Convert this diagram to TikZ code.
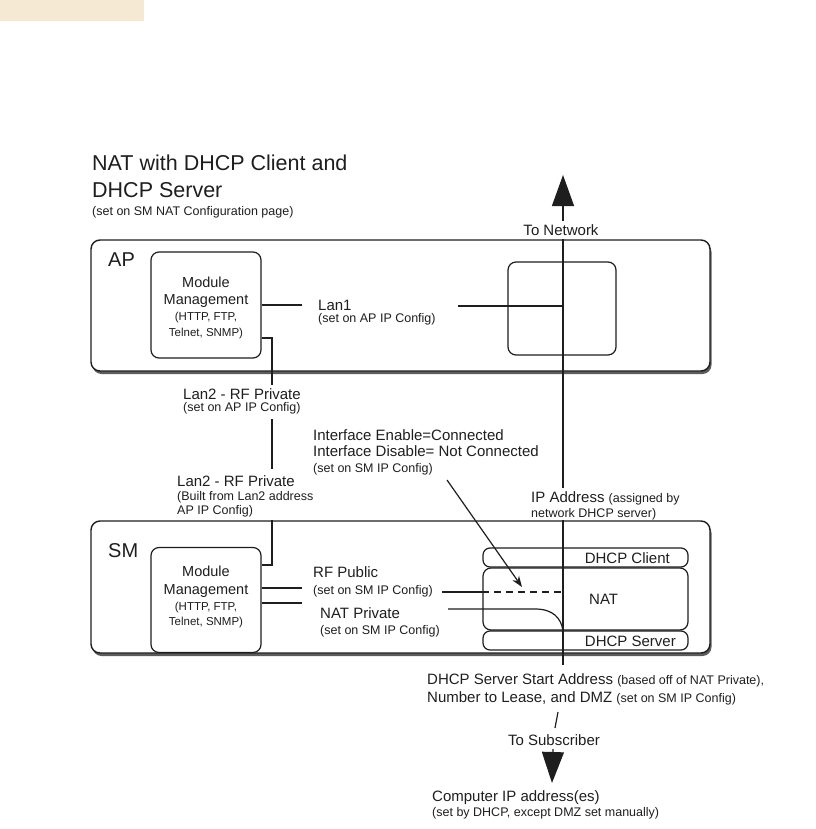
\documentclass[tikz,border=0pt]{standalone}
\usepackage{fontspec}
\setmainfont{Liberation Sans}
\usetikzlibrary{shadows,arrows.meta}
\definecolor{beige}{HTML}{F5E9D3}
\definecolor{ink}{HTML}{1E1E1E}
\tikzset{
  conn/.style={line width=1.2pt, draw=ink},
  bigbox/.style={draw=ink, line width=1.4pt, rounded corners=9pt, fill=white, inner sep=0pt,
    drop shadow={shadow xshift=1.5pt, shadow yshift=-3pt, fill=black!75, opacity=0.85}},
  modbox/.style={draw=ink, line width=1.2pt, rounded corners=8pt, fill=white, inner sep=0pt},
  pill/.style={draw=ink, line width=1.2pt, rounded corners=7pt, fill=white, inner sep=0pt},
  lbl/.style={anchor=base west, inner sep=0pt, text=ink, font=\fontsize{15}{18}\selectfont},
  big/.style={anchor=base west, inner sep=0pt, text=ink, font=\fontsize{21.5}{24}\selectfont},
  tiny/.style={anchor=base west, inner sep=0pt, text=ink, font=\fontsize{12.5}{14}\selectfont},
  mm/.style={anchor=base, inner sep=0pt, text=ink, font=\fontsize{14.5}{17}\selectfont},
  mms/.style={anchor=base, inner sep=0pt, text=ink, font=\fontsize{11.5}{14}\selectfont},
  bighead/.style={-{Triangle[width=22pt,length=31pt]}},
}
\newcommand{\smallt}[1]{{\fontsize{12.5}{14}\selectfont #1}}
\begin{document}
\begin{tikzpicture}[x=1pt,y=-1pt]
\useasboundingbox (0,0) rectangle (815,829);
\fill[beige] (0,0) rectangle (144,21);

% title
\node[big] (t1) at (92,171) {NAT with DHCP Client and};
\node[big] (t2) at (92,197) {DHCP Server};
\node[tiny] (t3) at (92,215) {(set on SM NAT Configuration page)};

% AP box
\node[bigbox, minimum width=619pt, minimum height=131pt] (ap) at (400.5,305.5) {};
\node[big, font=\fontsize{20}{24}\selectfont] (aplbl) at (108,266) {AP};
\node[modbox, minimum width=110pt, minimum height=106pt] (apmm) at (206,305) {};
\node[mm] (apm1) at (206,287) {Module};
\node[mm] (apm2) at (206,304) {Management};
\node[mms] (apm3) at (206,320) {(HTTP, FTP,};
\node[mms] (apm4) at (206,336) {Telnet, SNMP)};
\node[modbox, minimum width=108pt, minimum height=93pt] (apr) at (562,308.5) {};

% SM box
\node[bigbox, minimum width=619pt, minimum height=132pt] (sm) at (400.5,587) {};
\node[big, font=\fontsize{20}{24}\selectfont] (smlbl) at (108,557) {SM};
\node[modbox, minimum width=110pt, minimum height=105pt] (smmm) at (206,600) {};
\node[mm] (smm1) at (206,576) {Module};
\node[mm] (smm2) at (206,594) {Management};
\node[mms] (smm3) at (206,610) {(HTTP, FTP,};
\node[mms] (smm4) at (206,625) {Telnet, SNMP)};

% right stack
\node[modbox, minimum width=205pt, minimum height=62pt] (nat) at (585.5,599) {};
\node[pill, minimum width=205pt, minimum height=19pt] (dc) at (585.5,557.5) {};
\node[pill, minimum width=205pt, minimum height=19pt] (ds) at (585.5,640.5) {};
\node[lbl, anchor=east] (dct) at (670,558) {DHCP Client};
\node[lbl, anchor=west] (natt) at (589,599) {NAT};
\node[lbl, anchor=east] (dst) at (676,641) {DHCP Server};

% IP address
\node[lbl] (ipa) at (531,502) {IP Address \smallt{(assigned by}};
\node[tiny] (ipb) at (531,517) {network DHCP server)};

% vertical network line
\coordinate (vbot) at (563,665);
\coordinate (vtop) at (563,175);
\coordinate (vmid) at (563,488);
\node[lbl, fill=white, inner sep=1pt, anchor=base] (tonet) at (561,235) {To Network};
\draw[conn] (vbot) -- (sm.north -| vbot);
\draw[conn] (vmid) -- (ap.north -| vbot);
\draw[conn, bighead] (tonet.north -| vbot) ++(0,-2) -- (vtop);

% Lan1
\node[lbl] (lan1) at (318,310) {Lan1};
\node[tiny] (lan1s) at (318,322) {(set on AP IP Config)};
\draw[conn] (apmm.east |- 0,305) -- (302,305);
\draw[conn] (458,306) -- (vbot |- 0,306);

% Lan2 connector
\node[lbl] (l2a) at (183,399) {Lan2 - RF Private};
\node[tiny] (l2as) at (183,411) {(set on AP IP Config)};
\node[lbl] (l2b) at (177,486) {Lan2 - RF Private};
\node[tiny] (l2bs) at (177,500) {(Built from Lan2 address};
\node[tiny] (l2bs2) at (177,514) {AP IP Config)};
\draw[conn] (apmm.east |- 0,338) -| (272,385);
\draw[conn] (272,419) -- (272,469);
\draw[conn] (272,520) |- (smmm.east |- 0,565);

% Interface label
\node[lbl] (if1) at (313,440) {Interface Enable=Connected};
\node[lbl] (if2) at (313,456) {Interface Disable= Not Connected};
\node[tiny] (if3) at (313,472) {(set on SM IP Config)};
\coordinate (ifa) at (522,587);
\draw[conn, -{Stealth[length=11pt,width=8pt]}] (447,480) -- (ifa);

% RF Public
\node[lbl] (rfp) at (313,577) {RF Public};
\node[tiny] (rfps) at (313,594) {(set on SM IP Config)};
\draw[conn] (smmm.east |- 0,588) -- (302,588);
\draw[conn] (442,592) -- (nat.west |- 0,592);
\draw[conn, dashed, dash pattern=on 7pt off 5pt] (nat.west |- 0,592) -- (vbot |- 0,592);

% NAT Private
\node[lbl] (natp) at (320,618) {NAT Private};
\node[tiny] (natps) at (320,634) {(set on SM IP Config)};
\draw[conn] (smmm.east |- 0,603) -- (302,603);
\draw[conn] (448,609) -- (535,609) .. controls (553,609) and (561,618) .. (vbot |- nat.south);

% DHCP server start
\node[lbl] (dss) at (427,684) {DHCP Server Start Address \smallt{(based off of NAT Private),}};
\node[lbl] (dss2) at (427,702) {Number to Lease, and DMZ \smallt{(set on SM IP Config)}};
\coordinate (s1) at (558,712);
\coordinate (s2) at (555,728);
\draw[conn] (s1) -- (s2);
\node[lbl, anchor=base] (tosub) at (554,745) {To Subscriber};
\coordinate (arrtip) at (552,783);
\draw[conn, bighead] (553,749) -- (arrtip);

% computer
\node[lbl] (comp) at (432,801) {Computer IP address(es)};
\node[tiny] (comps) at (432,816) {(set by DHCP, except DMZ set manually)};
\end{tikzpicture}
\end{document}
